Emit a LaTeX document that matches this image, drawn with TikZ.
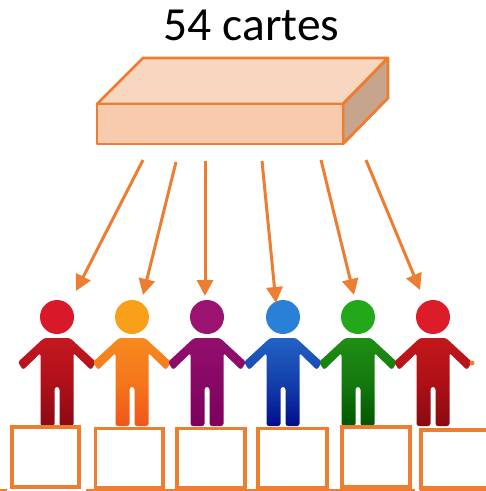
\documentclass[tikz,border=0pt]{standalone}
\usepackage{fontspec}
\setmainfont{Carlito}
\usetikzlibrary{arrows.meta}
\definecolor{orangeline}{HTML}{ED7D31}
\definecolor{boxfront}{HTML}{F7CBAC}
\definecolor{boxtop}{HTML}{F9D6BF}
\definecolor{boxside}{HTML}{C6A58C}
\newcommand{\stickperson}[5]{%
  \definecolor{ptop}{HTML}{#2}\definecolor{pbot}{HTML}{#3}\definecolor{pmid}{HTML}{#4}\definecolor{phead}{HTML}{#5}%
  \fill[phead] (#1,317) circle[radius=17];
  \path[top color=ptop,bottom color=pbot,middle color=pmid,rounded corners=2.5pt]
    (#1-13,338) -- (#1+13,338) -- (#1+39,362) -- (#1+34,370) -- (#1+16.5,353)
    -- (#1+16.5,426) -- (#1+2.5,426) -- (#1+2.5,387) -- (#1-2.5,387) -- (#1-2.5,426)
    -- (#1-16.5,426) -- (#1-16.5,353) -- (#1-34,370) -- (#1-39,362) -- cycle;
}
\tikzset{
  deckedge/.style={draw=orangeline,line width=2.8pt,line join=round},
  dealarrow/.style={draw=orangeline,line width=3pt,-{Triangle[length=16pt,width=16pt]}},
  seatbox/.style={draw=orangeline,line width=3.8pt,fill=white},
  floorline/.style={draw=orangeline,line width=3pt},
  titletext/.style={font=\fontsize{47.5}{47.5}\selectfont,text=black,inner sep=0pt}
}
\begin{document}
\begin{tikzpicture}[x=1pt,y=-1pt]
\useasboundingbox (0,0) rectangle (486,491);
\clip (0,0) rectangle (486,491);
\node[titletext] (title) at (251.5,25) {54 cartes};
% deck
\path[fill=boxtop,deckedge] (97,104) -- (143,58) -- (388,58) -- (343,104) -- cycle;
\path[fill=boxside,deckedge] (343,104) -- (388,58) -- (388,98) -- (343,144) -- cycle;
\path[fill=boxfront,deckedge] (97,104) -- (343,104) -- (343,144) -- (97,144) -- cycle;
% people
\stickperson{57}{C4181F}{8A0A14}{B01019}{D9182A}
\stickperson{132}{F78A1E}{F0561A}{F5761C}{F9A01B}
\stickperson{207}{920F6C}{7C005C}{880866}{9B1270}
\stickperson{283}{2262C4}{000E8C}{1440AC}{2A80D6}
\stickperson{358}{1F8E15}{005600}{137A0E}{23A81A}
\stickperson{433}{C2181C}{8A0A10}{AE1016}{DC1C28}
\fill[orangeline] (472,363) circle[radius=2.5];
% arrows
\coordinate (a1s) at (143,160); \coordinate (a1e) at (76,291);
\coordinate (a2s) at (176,162); \coordinate (a2e) at (143,295);
\coordinate (a3s) at (205,161); \coordinate (a3e) at (205,296);
\coordinate (a4s) at (262,161); \coordinate (a4e) at (276,303);
\coordinate (a5s) at (321,160); \coordinate (a5e) at (354,295);
\coordinate (a6s) at (366,160); \coordinate (a6e) at (420,290);
\draw[dealarrow] (a1s) -- (a1e);
\draw[dealarrow] (a2s) -- (a2e);
\draw[dealarrow] (a3s) -- (a3e);
\draw[dealarrow] (a4s) -- (a4e);
\draw[dealarrow] (a5s) -- (a5e);
\draw[dealarrow] (a6s) -- (a6e);
% floor
\draw[floorline] (0,490.5) -- (7,490.5);
\draw[floorline] (86,490.5) -- (415,490.5);
\draw[floorline] (420,490.5) -- (486,490.5);
% boxes
\draw[seatbox] (12,427) rectangle (79,487);
\draw[seatbox] (95.5,428.5) rectangle (163,488);
\draw[seatbox] (177,428.5) rectangle (245,488);
\draw[seatbox] (258,428.5) rectangle (327,488);
\draw[seatbox] (342,427) rectangle (410,487);
\draw[seatbox] (421,430) rectangle (500,488);
\end{tikzpicture}
\end{document}
